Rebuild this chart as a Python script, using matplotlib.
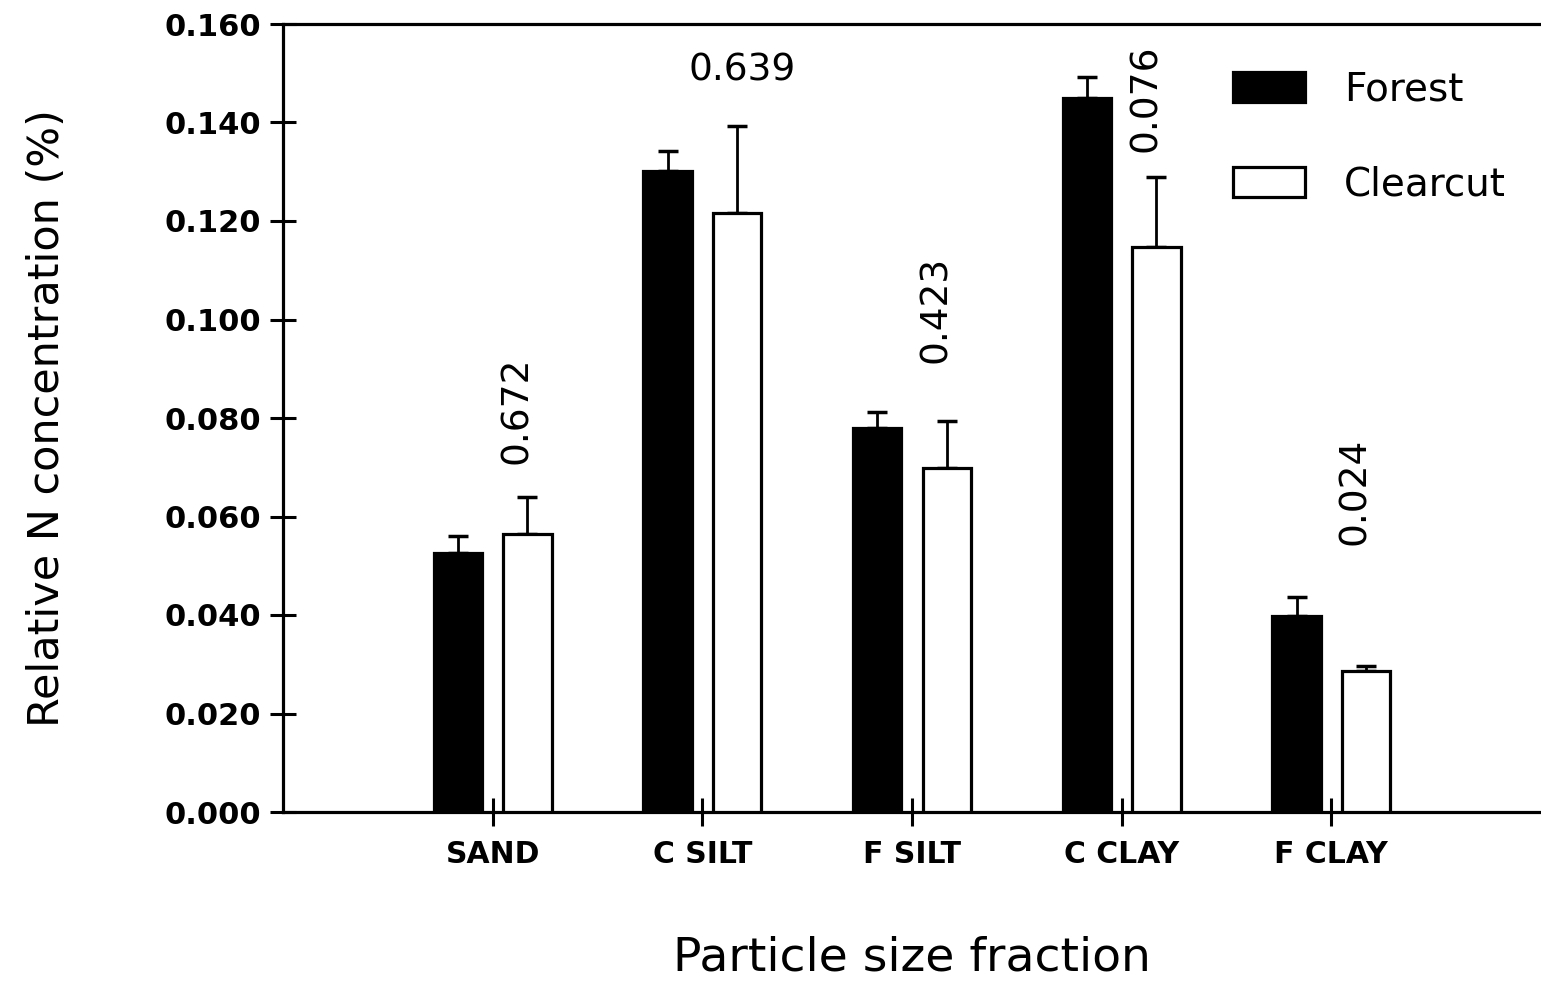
import matplotlib
matplotlib.use("Agg")
import matplotlib.pyplot as plt
import numpy as np

# particle size fractions and mean relative N (%) with upper error
fractions = ['SAND', 'C SILT', 'F SILT', 'C CLAY', 'F CLAY']
forest = [0.0525, 0.1302, 0.0780, 0.1450, 0.0398]
forest_err = [0.0036, 0.0040, 0.0032, 0.0042, 0.0039]
clearcut = [0.0564, 0.1216, 0.0698, 0.1147, 0.0286]
clearcut_err = [0.0075, 0.0177, 0.0096, 0.0143, 0.0010]
p_values = ['0.672', '0.639', '0.423', '0.076', '0.024']

x = np.arange(1, len(fractions) + 1)
w = 0.23
off = 0.166

fig = plt.figure(figsize=(15.41, 9.83), dpi=100)
ax = fig.add_axes([283 / 1541, 171 / 983, 1 - 283 / 1541, 788 / 983])

lw = 2.3
ax.bar(x - off, forest, w, color='black', edgecolor='black', linewidth=lw, label='Forest', zorder=3)
ax.bar(x + off, clearcut, w, color='white', edgecolor='black', linewidth=lw, label='Clearcut', zorder=3)
ax.errorbar(x - off, forest, yerr=[np.zeros(5), forest_err], fmt='none', ecolor='black',
            elinewidth=2, capsize=7, capthick=2.5, zorder=2)
ax.errorbar(x + off, clearcut, yerr=[np.zeros(5), clearcut_err], fmt='none', ecolor='black',
            elinewidth=2, capsize=7, capthick=2.5, zorder=2)

# p-values above each pair
for i, p in enumerate(p_values):
    if i == 1:
        ax.text(x[i] + 0.19, 0.1505, p, ha='center', va='center', fontsize=27)
    else:
        ypos = [0.0815, 0, 0.102, 0.145, 0.0652][i]
        ax.text(x[i] + 0.115, ypos, p, ha='center', va='center', rotation=90, fontsize=27)

ax.set_xlim(0, 6)
ax.set_ylim(0, 0.160)
ax.set_xticks(x)
ax.set_xticklabels(fractions, fontsize=21.5, fontweight='bold')
ax.set_yticks(np.arange(0, 0.161, 0.02))
ax.set_yticklabels(['%.3f' % v for v in np.arange(0, 0.161, 0.02)], fontsize=22, fontweight='bold')
ax.tick_params(axis='both', direction='inout', width=2.2, color='black')
ax.tick_params(axis='y', length=19, pad=6)
ax.tick_params(axis='x', length=20, pad=10)

for s in ['left', 'bottom', 'top']:
    ax.spines[s].set_linewidth(2.3)
ax.spines['right'].set_visible(False)

ax.set_ylabel('Relative N concentration (%)', fontsize=31, labelpad=70)
ax.set_xlabel('Particle size fraction', fontsize=34, labelpad=48)

ax.legend(loc='upper right', bbox_to_anchor=(1.0, 0.985), frameon=False, fontsize=28,
          handlelength=1.85, handleheight=0.8, handletextpad=1.0, labelspacing=1.45)

fig.savefig('out.png', dpi=100)
